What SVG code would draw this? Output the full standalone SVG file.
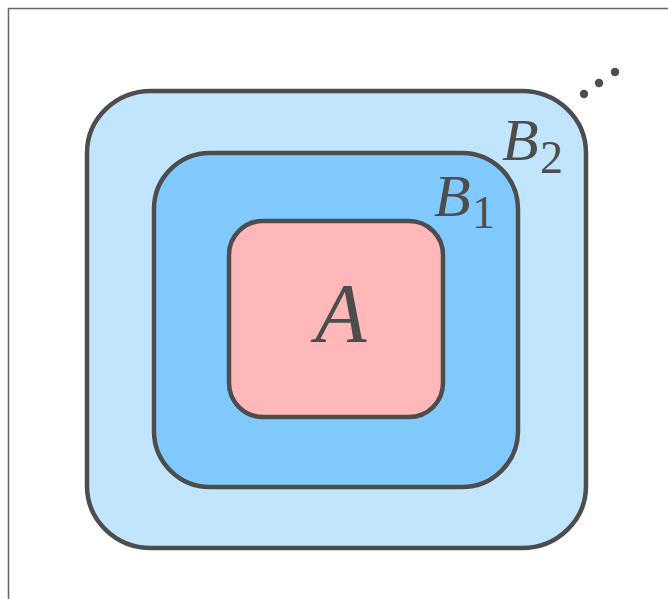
<svg xmlns="http://www.w3.org/2000/svg" width="668" height="599" viewBox="0 0 668 599">
<style>
.box{stroke:#4d4d4d;stroke-width:4.5}
.lbl{font-family:"Liberation Serif",serif;font-style:italic;fill:#4d4d4d}
.sub{font-family:"Liberation Serif",serif;fill:#4d4d4d}
</style>
<rect x="8.5" y="8.5" width="700" height="700" fill="#fff" stroke="#666" stroke-width="1.5"/>
<g id="B2">
<rect class="box" x="87" y="91" width="499" height="457" rx="64" ry="62" fill="#c2e5fe"/>
<text class="lbl" x="502" y="160" font-size="60">B</text>
<text class="sub" x="540" y="173" font-size="46">2</text>
</g>
<g id="B1">
<rect class="box" x="154" y="153" width="364" height="334" rx="56" ry="56" fill="#80caff"/>
<text class="lbl" x="434" y="216" font-size="60">B</text>
<text class="sub" x="472" y="228" font-size="46">1</text>
</g>
<g id="A">
<rect class="box" x="229" y="221" width="214" height="196" rx="34" ry="34" fill="#ffb8b9"/>
<text class="lbl" x="341" y="342" font-size="84" text-anchor="middle">A</text>
</g>
<g id="dots" fill="#4d4d4d">
<circle cx="584" cy="94" r="4.2"/>
<circle cx="599" cy="83" r="4.2"/>
<circle cx="615" cy="72" r="4.2"/>
</g>
</svg>
